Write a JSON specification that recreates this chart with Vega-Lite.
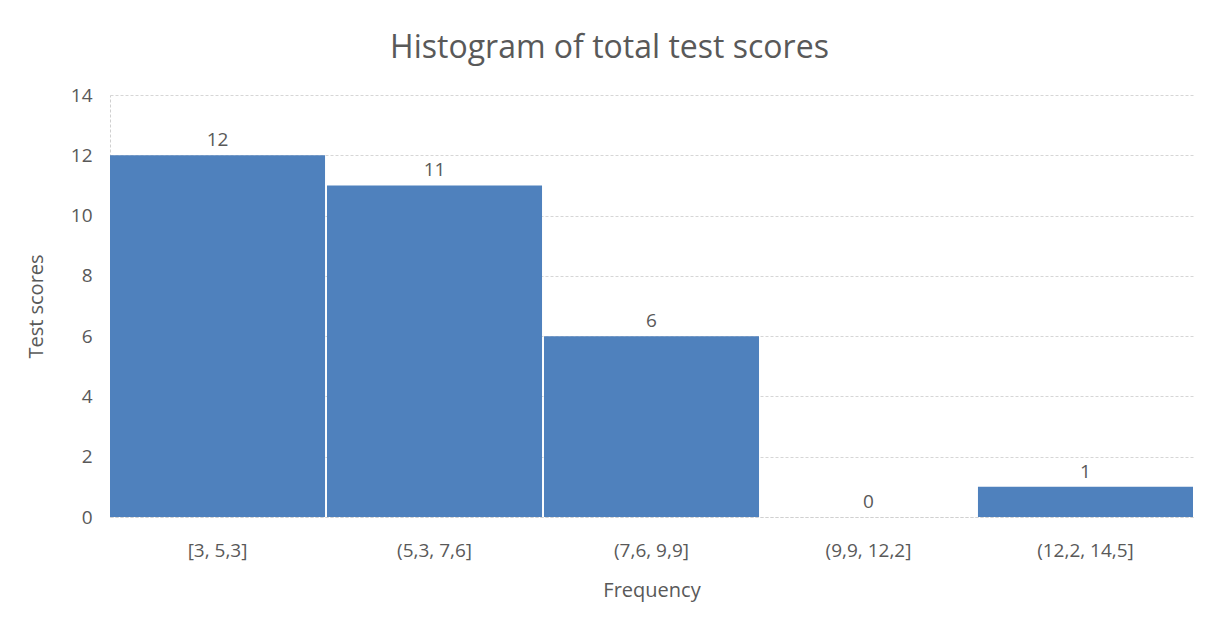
{
  "$schema": "https://vega.github.io/schema/vega-lite/v6.json",
  "autosize": {"type": "none"},
  "width": 1083,
  "height": 422,
  "padding": {"left": 110, "top": 95, "right": 15, "bottom": 104},
  "background": "white",
  "title": {
    "text": "Histogram of total test scores",
    "font": "Open Sans",
    "fontSize": 32,
    "fontWeight": "normal",
    "color": "#595959",
    "anchor": "middle",
    "dx": -42,
    "offset": 21
  },
  "data": {
    "values": [
      {"bin": "[3, 5,3]", "count": 12},
      {"bin": "(5,3, 7,6]", "count": 11},
      {"bin": "(7,6, 9,9]", "count": 6},
      {"bin": "(9,9, 12,2]", "count": 0},
      {"bin": "(12,2, 14,5]", "count": 1}
    ]
  },
  "encoding": {
    "x": {
      "field": "bin",
      "type": "nominal",
      "sort": null,
      "scale": {"paddingInner": 0.009, "paddingOuter": 0},
      "axis": {
        "title": "Frequency",
        "titleFont": "Open Sans",
        "titleFontSize": 20,
        "titleFontWeight": "normal",
        "titleColor": "#595959",
        "titlePadding": 20,
        "labelFont": "Open Sans",
        "labelFontSize": 19,
        "labelColor": "#595959",
        "labelAngle": 0,
        "labelPadding": 24,
        "ticks": false,
        "domain": true,
        "domainColor": "#d0d0d0",
        "domainDash": [3, 2],
        "domainWidth": 1
      }
    },
    "y": {
      "field": "count",
      "type": "quantitative",
      "scale": {"domain": [0, 14]},
      "axis": {
        "title": "Test scores",
        "titleFont": "Open Sans",
        "titleFontSize": 20,
        "titleFontWeight": "normal",
        "titleColor": "#595959",
        "titlePadding": 24,
        "values": [0, 2, 4, 6, 8, 10, 12, 14],
        "labelFont": "Open Sans",
        "labelFontSize": 19,
        "labelColor": "#595959",
        "labelPadding": 18,
        "ticks": false,
        "domain": true,
        "domainColor": "#d0d0d0",
        "domainDash": [3, 2],
        "grid": true,
        "gridColor": "#d6d6d6",
        "gridDash": [3, 2],
        "gridWidth": 1
      }
    }
  },
  "layer": [
    {"mark": {"type": "bar", "color": "#4F81BD"}},
    {
      "mark": {"type": "text", "baseline": "bottom", "dy": -5, "font": "Open Sans", "fontSize": 19, "color": "#595959"},
      "encoding": {"text": {"field": "count", "type": "quantitative"}}
    }
  ],
  "config": {"view": {"stroke": null}}
}
